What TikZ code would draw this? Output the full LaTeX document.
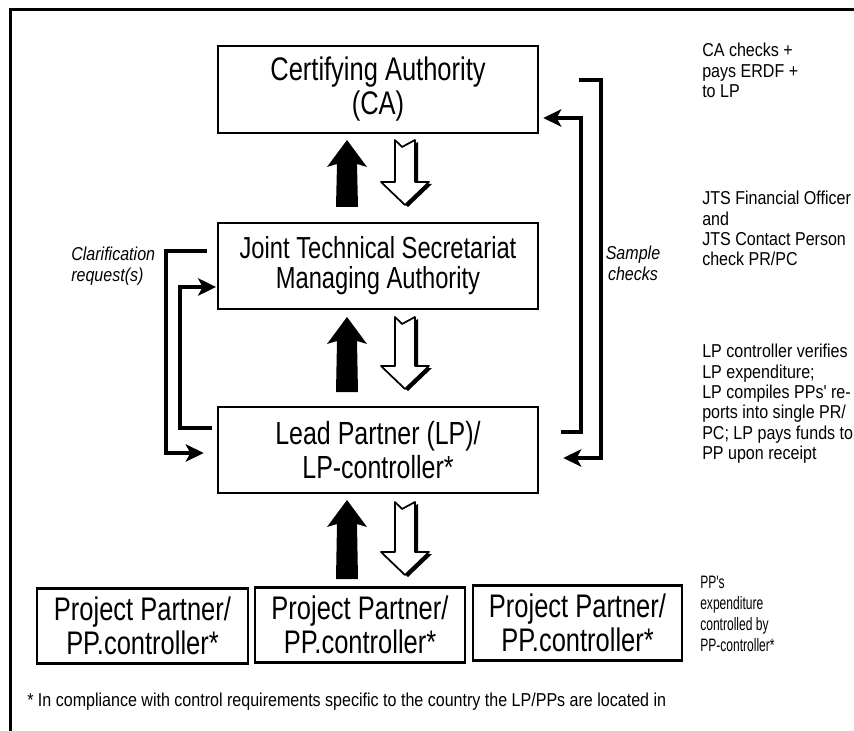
\documentclass[tikz,border=0pt]{standalone}
\usepackage{fontspec}
\setmainfont{Liberation Sans}[FakeStretch=0.78]
\newfontfamily\notefont{Liberation Sans}[FakeStretch=0.86]
\newfontfamily\narrowfont{Liberation Sans}[FakeStretch=0.67]
\usetikzlibrary{arrows.meta,calc}

% solid block arrow pointing up: centre x, tip y, foot y
\newcommand\solidup[3]{%
  \fill[black] (#1,#2) -- (#1+20,#2+27) -- (#1+10,#2+24) -- (#1+11,#3)
    -- (#1-11,#3) -- (#1-10,#2+24) -- (#1-20,#2+27) -- cycle;}
% outline of a hollow block arrow pointing down, with a notched tail
\newcommand\hollowpath[3]{(#1-10,#2) -- (#1-3,#2+7) -- (#1+10,#2) -- (#1+10,#3-23)
    -- (#1+24,#3-23) -- (#1,#3) -- (#1-24,#3-23) -- (#1-10,#3-23) -- cycle}
% hollow block arrow with a small drop shadow: centre x, tail y, tip y
\newcommand\hollowdown[3]{%
  \fill[black, shift={(3,2)}] \hollowpath{#1}{#2}{#3};
  \filldraw[fill=white, draw=black, line width=1.3pt, line join=round] \hollowpath{#1}{#2}{#3};}

\begin{document}
\begin{tikzpicture}[x=0.75pt,y=-0.75pt,
  box/.style={draw, line width=1.9pt, inner sep=0pt, align=center},
  bigtext/.style={font=\fontsize{24.5}{25.5}\selectfont},
  midtext/.style={font=\fontsize{22.8}{22.5}\selectfont},
  lptext/.style={font=\fontsize{24}{25.5}\selectfont},
  flow/.style={line width=3pt, -{Stealth[length=13.5pt,width=13pt,inset=3.5pt]}},
  note/.style={font=\notefont\fontsize{14}{15.3}\selectfont, align=left, inner sep=0pt, anchor=north west},
  remark/.style={font=\notefont\itshape\fontsize{14}{16}\selectfont, inner sep=0pt},
]
\useasboundingbox (0,0) rectangle (854,731);

% page frame
\draw[line width=2.2pt] (10.5,731) -- (10.5,9.5) -- (854,9.5);

% boxes
\node[box, bigtext, minimum width=240pt, minimum height=65.25pt] (ca) at (378,89.5) {Certifying Authority\\(CA)};
\node[box, midtext, minimum width=240pt, minimum height=64.5pt] (jts) at (378,266) {Joint Technical Secretariat\\Managing Authority};
\node[box, lptext, minimum width=240pt, minimum height=64.5pt] (lp) at (378,450) {Lead Partner (LP)/\\LP-controller*};
\node[box, bigtext, minimum width=158pt, minimum height=56.5pt] (pp1) at (142.5,626) {Project Partner/\\PP.controller*};
\node[box, bigtext, minimum width=157.5pt, minimum height=56.5pt] (pp2) at (360,625) {Project Partner/\\PP.controller*};
\node[box, bigtext, minimum width=157pt, minimum height=56.5pt] (pp3) at (577.5,623) {Project Partner/\\PP.controller*};

% reporting (up) and payment (down) block arrows
\solidup{347}{140}{207}
\hollowdown{405}{140}{205}
\solidup{347}{317}{392}
\hollowdown{405}{317}{389}
\solidup{347}{500}{579}
\hollowdown{405}{502}{575}

% clarification loop between JTS and LP
\draw[flow, shorten <=7.5pt, shorten >=9.75pt] ($(jts.west)+(0,-15)$) -| ($(lp.west)+(-51,3)$) -- ($(lp.west)+(0,3)$);
\draw[flow, shorten <=3.75pt, shorten >=0.5pt] ($(lp.west)+(0,-22)$) -| ($(jts.west)+(-37,21)$) -- ($(jts.west)+(0,21)$);

% sample check loop between LP and CA
\draw[flow, shorten <=16.5pt, shorten >=3pt] ($(lp.east)+(0,-18)$) -| ($(ca.east)+(42,28.5)$) -- ($(ca.east)+(0,28.5)$);
\draw[flow, shorten <=30pt, shorten >=18pt] ($(ca.east)+(0,-9.5)$) -| ($(lp.east)+(62,8)$) -- ($(lp.east)+(0,8)$);

% loop labels
\node[remark, anchor=west, align=left] (clar) at (71,266) {Clarification\\request(s)};
\node[remark, align=center] (sample) at (633,263) {Sample\\checks};

% side notes
\node[note] (canote) at (702,43) {CA checks +\\pays ERDF +\\to LP};
\node[note] (jtsnote) at (702,191) {JTS Financial Officer\\and\\JTS Contact Person\\check PR/PC};
\node[note] (lpnote) at (702,344) {LP controller verifies\\LP expenditure;\\LP compiles PPs' re-\\ports into single PR/\\PC; LP pays funds to\\PP upon receipt};
\node[note, font=\narrowfont\fontsize{13.5}{15.6}\selectfont] (ppnote) at (700,576) {PP's\\expenditure\\controlled by\\PP-controller*};

% footnote
\node[font=\notefont\fontsize{14}{16}\selectfont, anchor=base west, inner sep=0pt] (foot) at (27,706) {* In compliance with control requirements specific to the country the LP/PPs are located in};
\end{tikzpicture}
\end{document}
